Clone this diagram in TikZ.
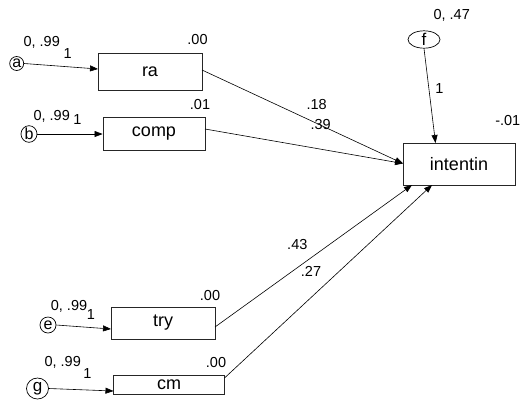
\documentclass[tikz,border=0pt]{standalone}
\usepackage{fontspec}
\setmainfont{Liberation Sans}
\usetikzlibrary{arrows.meta,shapes.geometric}
\begin{document}
\begin{tikzpicture}[x=1pt,y=-1pt,
  obs/.style={draw=black!85,line width=0.9pt,minimum width=#1,inner sep=0pt,font=\fontsize{18}{18}\selectfont},
  lbl/.style={font=\fontsize{14.5}{14.5}\selectfont,inner sep=0pt},
  arr/.style={-{Triangle[length=8pt,width=6pt]},line width=0.6pt}]
\useasboundingbox (0,0) rectangle (521,400);
% boxes
\node[obs=104pt,minimum height=37pt] (ra) at (150,71.5) {ra};
\node[obs=102pt,minimum height=33pt] (comp) at (154,134) {comp};
\node[obs=112pt,minimum height=42pt] (int) at (459,164) {intentin};
\node[obs=104pt,minimum height=32pt] (try) at (163,323) {try};
\node[obs=111pt,minimum height=19pt] (cm) at (169,384.5) {cm};
% error terms
\node[draw,circle,line width=0.7pt,minimum size=14pt,inner sep=0pt,font=\fontsize{16}{16}\selectfont] (a) at (16.7,63.5) {a};
\node[draw,ellipse,line width=0.7pt,minimum width=16pt,minimum height=13pt,inner sep=0pt,font=\fontsize{16}{16}\selectfont] (b) at (29,134) {b};
\node[draw,circle,line width=0.7pt,minimum size=16pt,inner sep=0pt,font=\fontsize{16}{16}\selectfont] (e) at (48,325) {e};
\node[draw,ellipse,line width=0.7pt,minimum width=22pt,minimum height=21pt,inner sep=0pt,font=\fontsize{17}{17}\selectfont] (g) at (37.5,388.5) {g};
\node[draw,ellipse,line width=0.7pt,minimum width=32pt,minimum height=16pt,inner sep=0pt,font=\fontsize{17}{17}\selectfont] (f) at (424,39.5) {f};
% connectors
\coordinate (raIn) at (98,69);
\draw[arr] (a.east) -- (raIn);
\draw[arr] (b.east) -- (comp.west);
\coordinate (tryIn) at (111,329);
\draw[arr] (e.east) -- (tryIn);
\coordinate (cmIn) at (113.5,391);
\draw[arr] (g.east) -- (cmIn);
\coordinate (intL) at (403,163.5);
\coordinate (intT) at (435.5,143);
\coordinate (intB1) at (412,185);
\coordinate (intB2) at (432,185);
\coordinate (raOut) at (202,70);
\coordinate (compOut) at (205,129);
\coordinate (tryOut) at (215,327);
\coordinate (cmOut) at (224.5,378);
\draw[arr] (f.south) -- (intT);
\draw[arr] (raOut) -- (intL);
\draw[arr] (compOut) -- (intL);
\draw[arr] (tryOut) -- (intB1);
\draw[arr] (cmOut) -- (intB2);
% labels
\node[lbl] (la1) at (41.7,42.5) {0, .99};
\node[lbl] (la2) at (67.7,53.5) {1};
\node[lbl] (lra) at (197.5,40) {.00};
\node[lbl] (lb1) at (51.7,116) {0, .99};
\node[lbl] (lb2) at (77.5,119.5) {1};
\node[lbl] (lcomp) at (200,104.5) {.01};
\node[lbl] (lf1) at (451.7,15) {0, .47};
\node[lbl] (lf2) at (439.3,88.3) {1};
\node[lbl] (l18) at (316.7,105) {.18};
\node[lbl] (l39) at (320.7,125) {.39};
\node[lbl,anchor=east] (lint) at (520.5,121) {-.01};
\node[lbl] (l43) at (297.3,244.3) {.43};
\node[lbl] (l27) at (311,271) {.27};
\node[lbl] (ltry) at (210,295) {.00};
\node[lbl] (le1) at (69,306) {0, .99};
\node[lbl] (le2) at (91,314.5) {1};
\node[lbl] (lcm) at (216,362.7) {.00};
\node[lbl] (lg1) at (62.7,362.7) {0, .99};
\node[lbl] (lg2) at (87.3,374) {1};
\end{tikzpicture}
\end{document}
